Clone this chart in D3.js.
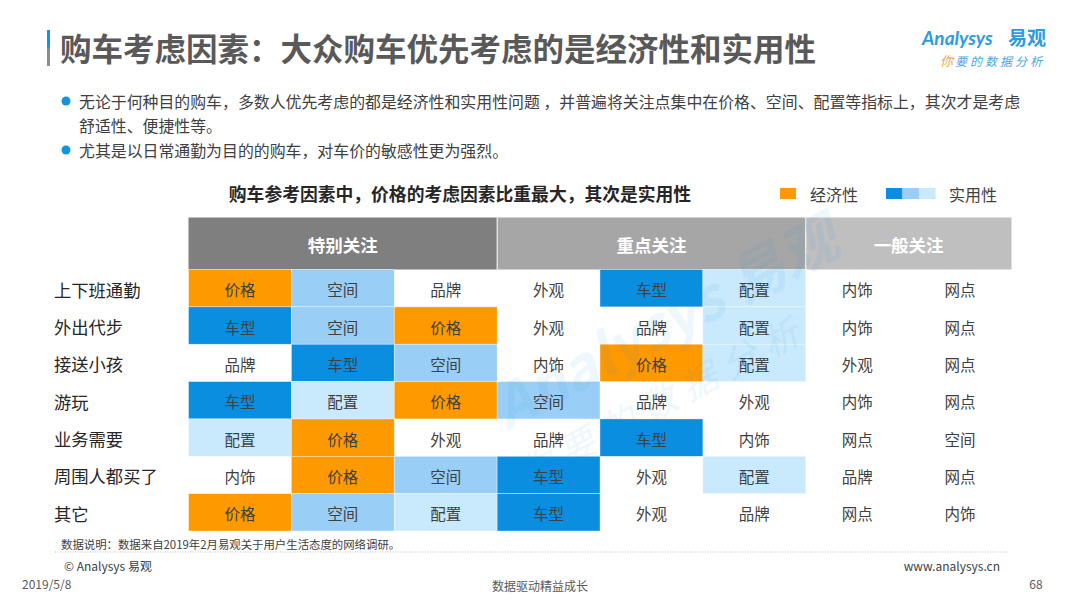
<!DOCTYPE html>
<html>
<head>
<meta charset="utf-8">
<script src="https://cdn.jsdelivr.net/npm/d3@7"></script>
<style>
  body { margin: 0; background: #fff; }
  svg text { font-family: "Noto Sans CJK SC", "Noto Sans", sans-serif; }
</style>
</head>
<body>
<div id="chart"></div>
<script>
// data
const purposes = ['上下班通勤', '外出代步', '接送小孩', '游玩', '业务需要', '周围人都买了', '其它'];
const groups = ['特别关注', '重点关注', '一般关注'];
const groupSpans = [3, 3, 2];
const ranking = [
    ['价格', '空间', '品牌', '外观', '车型', '配置', '内饰', '网点'],
    ['车型', '空间', '价格', '外观', '品牌', '配置', '内饰', '网点'],
    ['品牌', '车型', '空间', '内饰', '价格', '配置', '外观', '网点'],
    ['车型', '配置', '价格', '空间', '品牌', '外观', '内饰', '网点'],
    ['配置', '价格', '外观', '品牌', '车型', '内饰', '网点', '空间'],
    ['内饰', '价格', '空间', '车型', '外观', '配置', '品牌', '网点'],
    ['价格', '空间', '配置', '车型', '外观', '品牌', '网点', '内饰']
];
const factors = ['价格', '车型', '空间', '配置'];
const factorColors = ['#FF9900', '#0A8EE0', '#99CFF7', '#C9E9FC'];
const groupColors = ['#7F7F7F', '#A6A6A6', '#BFBFBF'];
const legendItems = ['经济性', '实用性'];

const width = 1080, height = 607;
const svg = d3.select('#chart').append('svg')
    .attr('width', width)
    .attr('height', height);

// title bar
const grad = svg.append('defs').append('linearGradient')
    .attr('id', 'barGrad').attr('x1', 0).attr('y1', 0).attr('x2', 0).attr('y2', 1);
grad.append('stop').attr('offset', '0%').attr('stop-color', '#1296DB');
grad.append('stop').attr('offset', '45%').attr('stop-color', '#1296DB');
grad.append('stop').attr('offset', '55%').attr('stop-color', '#8C8C8C');
grad.append('stop').attr('offset', '100%').attr('stop-color', '#8C8C8C');
svg.append('rect').attr('x', 47).attr('y', 30).attr('width', 3).attr('height', 36).style('fill', 'url(#barGrad)');

svg.append('text')
    .attr('x', 60).attr('y', 61)
    .text('购车考虑因素：大众购车优先考虑的是经济性和实用性')
    .style('font-size', '31.5px').style('font-weight', 'bold').style('fill', '#595959');

// logo
svg.append('text').attr('x', 922).attr('y', 45)
    .text('Analysys')
    .style('font-size', '19px').style('font-style', 'italic').style('font-weight', 'bold')
    .style('fill', '#2C9BE0').style('font-family', 'Lato, sans-serif');
svg.append('text').attr('x', 1008).attr('y', 45)
    .text('易观')
    .style('font-size', '19px').style('font-weight', 'bold').style('fill', '#2C9BE0');
svg.append('text').attr('x', 940).attr('y', 66)
    .text('你')
    .style('font-size', '13px').style('font-style', 'italic').style('fill', '#F5A04A');
svg.append('text').attr('x', 955).attr('y', 66)
    .text('要的数据分析')
    .style('font-size', '12px').style('font-style', 'italic').style('letter-spacing', '3px').style('fill', '#4AA6E6');

// bullets
const bullets = [
    {y: 101, dot: true, t: '无论于何种目的购车，多数人优先考虑的都是经济性和实用性问题 ，并普遍将关注点集中在价格、空间、配置等指标上，其次才是考虑'},
    {y: 125, dot: false, t: '舒适性、便捷性等。'},
    {y: 150, dot: true, t: '尤其是以日常通勤为目的的购车，对车价的敏感性更为强烈。'}
];
bullets.forEach(b => {
    if (b.dot) svg.append('circle').attr('cx', 66).attr('cy', b.y).attr('r', 4.5).style('fill', '#1296DB');
    svg.append('text').attr('x', 79).attr('y', b.y)
        .attr('dominant-baseline', 'central')
        .text(b.t).style('font-size', '15.9px').style('fill', '#404040');
});

// subtitle
svg.append('text').attr('x', 460).attr('y', 193)
    .attr('text-anchor', 'middle').attr('dominant-baseline', 'central')
    .text('购车参考因素中，价格的考虑因素比重最大，其次是实用性')
    .style('font-size', '17.8px').style('font-weight', 'bold').style('fill', '#262626');

// legend
svg.append('rect').attr('x', 780).attr('y', 188).attr('width', 16).attr('height', 11).style('fill', factorColors[0]);
svg.selectAll('.legendBlue')
    .data(factorColors.slice(1))
    .enter()
    .append('rect')
    .attr('x', (d, i) => 886 + i * 16.5)
    .attr('y', 188).attr('width', 16.5).attr('height', 11)
    .style('fill', d => d);
svg.selectAll('.legendText')
    .data(legendItems)
    .enter()
    .append('text')
    .attr('x', (d, i) => i == 0 ? 810 : 949)
    .attr('y', 194)
    .attr('dominant-baseline', 'central')
    .text(d => d)
    .style('font-size', '16px').style('fill', '#404040');

// table
const left = 188.5, right = 1011.5, headTop = 217.5, headBottom = 269.5, tableBottom = 531;
const x = d3.scaleBand().domain(d3.range(8)).range([left, right]);
const y = d3.scaleBand().domain(purposes).range([headBottom, tableBottom]);
const color = d3.scaleOrdinal().domain(factors).range(factorColors).unknown('none');

// which group a column belongs to
const colGroup = [];
groupSpans.forEach((s, g) => { for (let k = 0; k < s; k++) colGroup.push(g); });

// header
let start = 0;
groups.forEach((g, i) => {
    const x0 = x(start), x1 = x(start + groupSpans[i] - 1) + x.bandwidth();
    svg.append('rect')
        .attr('x', x0).attr('y', headTop)
        .attr('width', x1 - x0).attr('height', headBottom - headTop)
        .style('fill', groupColors[i]);
    svg.append('text')
        .attr('x', (x0 + x1) / 2).attr('y', (headTop + headBottom) / 2 + 1)
        .attr('text-anchor', 'middle').attr('dominant-baseline', 'central')
        .text(g)
        .style('font-size', '17.5px').style('font-weight', 'bold').style('fill', '#fff');
    if (i > 0) {
        svg.append('line')
            .attr('x1', x0).attr('x2', x0).attr('y1', headTop).attr('y2', headBottom)
            .style('stroke', '#fff').style('stroke-width', 1);
    }
    start += groupSpans[i];
});

// cells
const cells = [];
ranking.forEach((row, r) => row.forEach((f, c) => cells.push({row: purposes[r], col: c, factor: f})));

svg.append('g').selectAll('rect')
    .data(cells)
    .enter()
    .append('rect')
    .attr('x', d => x(d.col))
    .attr('y', d => y(d.row))
    .attr('width', x.bandwidth())
    .attr('height', y.bandwidth())
    .style('fill', d => colGroup[d.col] == 2 ? 'none' : color(d.factor))
    .style('stroke', d => colGroup[d.col] == 2 || color(d.factor) == 'none' ? 'none' : 'rgba(255,255,255,0.6)')
    .style('stroke-width', 0.6);

// watermark
const wm = svg.append('g')
    .attr('transform', 'translate(640,360) rotate(-28)')
    .style('opacity', 0.07);
wm.append('text').attr('x', -150).attr('y', 0)
    .text('Analysys 易观')
    .style('font-size', '58px').style('font-style', 'italic').style('font-weight', 'bold').style('fill', '#1296DB');
wm.append('text').attr('x', -160).attr('y', 60)
    .text('你要的数据分析')
    .style('font-size', '36px').style('font-style', 'italic').style('letter-spacing', '10px').style('fill', '#1296DB');

svg.append('g').selectAll('text')
    .data(cells)
    .enter()
    .append('text')
    .attr('x', d => x(d.col) + x.bandwidth() / 2)
    .attr('y', d => y(d.row) + y.bandwidth() / 2 + 1)
    .attr('text-anchor', 'middle').attr('dominant-baseline', 'central')
    .text(d => d.factor)
    .style('font-size', '15.5px').style('fill', '#404040');

// row labels
svg.append('g').selectAll('text')
    .data(purposes)
    .enter()
    .append('text')
    .attr('x', 54)
    .attr('y', d => y(d) + y.bandwidth() / 2 + 1)
    .attr('dominant-baseline', 'central')
    .text(d => d)
    .style('font-size', '17.3px').style('fill', '#262626');

// footer
svg.append('text').attr('x', 61).attr('y', 544)
    .attr('dominant-baseline', 'central')
    .text('数据说明：数据来自2019年2月易观关于用户生活态度的网络调研。')
    .style('font-size', '11.4px').style('fill', '#404040');
svg.append('line')
    .attr('x1', 55).attr('x2', 1008).attr('y1', 552).attr('y2', 552)
    .style('stroke', '#B0B0B0').style('stroke-width', 0.8).style('stroke-dasharray', '1,1.5');
svg.append('text').attr('x', 64).attr('y', 565)
    .attr('dominant-baseline', 'central')
    .text('© Analysys 易观')
    .style('font-size', '12px').style('fill', '#404040');
svg.append('text').attr('x', 1000).attr('y', 565)
    .attr('text-anchor', 'end').attr('dominant-baseline', 'central')
    .text('www.analysys.cn')
    .style('font-size', '12px').style('fill', '#404040');
svg.append('text').attr('x', 22).attr('y', 583)
    .attr('dominant-baseline', 'central')
    .text('2019/5/8')
    .style('font-size', '12px').style('fill', '#595959');
svg.append('text').attr('x', 540).attr('y', 585)
    .attr('text-anchor', 'middle').attr('dominant-baseline', 'central')
    .text('数据驱动精益成长')
    .style('font-size', '12px').style('fill', '#595959');
svg.append('text').attr('x', 1036).attr('y', 583)
    .attr('text-anchor', 'middle').attr('dominant-baseline', 'central')
    .text('68')
    .style('font-size', '12px').style('fill', '#595959');
</script>
</body>
</html>
